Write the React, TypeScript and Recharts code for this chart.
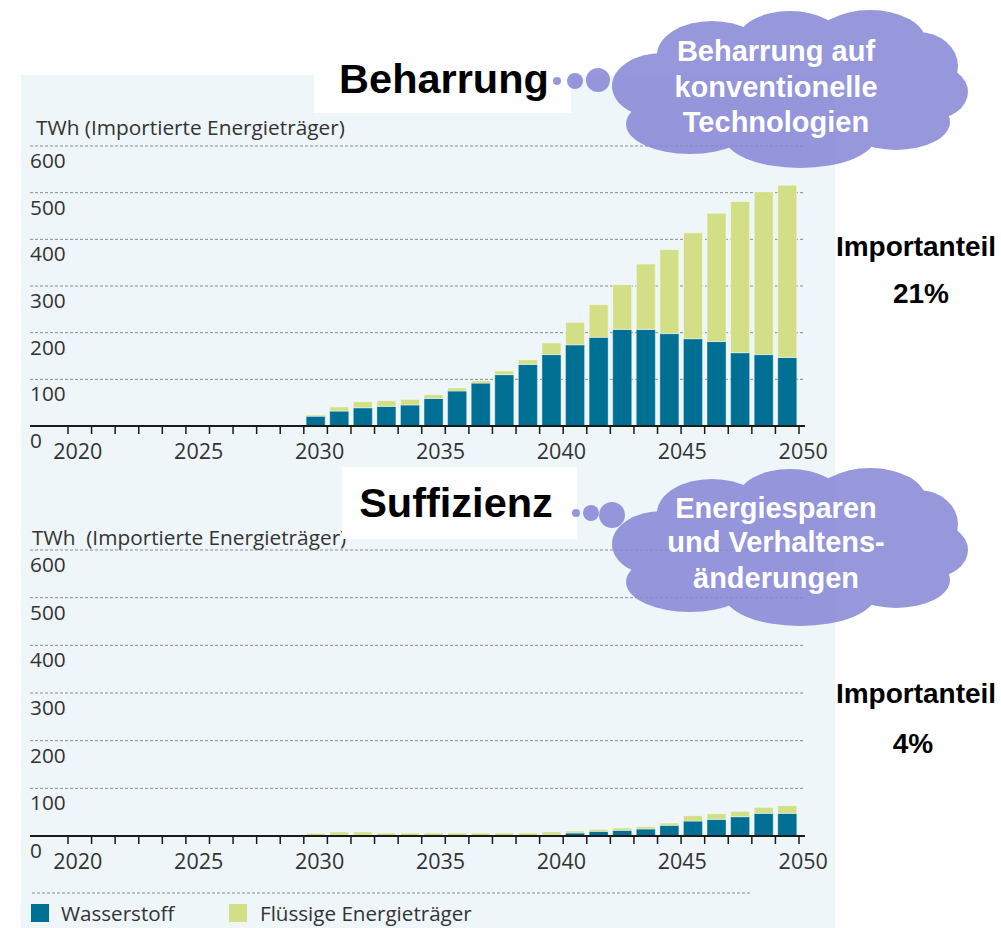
import React from 'react';
import { BarChart, Bar, XAxis, YAxis, CartesianGrid } from 'recharts';

const years = [
  2020, 2021, 2022, 2023, 2024, 2025, 2026, 2027, 2028, 2029, 2030,
  2031, 2032, 2033, 2034, 2035, 2036, 2037, 2038, 2039, 2040,
  2041, 2042, 2043, 2044, 2045, 2046, 2047, 2048, 2049, 2050,
];
const yearLabels = [2020, 2025, 2030, 2035, 2040, 2045, 2050];
const yTicks = [0, 100, 200, 300, 400, 500, 600];

// Beharrung (TWh)
const beharrungWasserstoff = [
  0, 0, 0, 0, 0, 0, 0, 0, 0, 0, 21,
  32, 39, 42, 45, 59, 75, 92, 110, 132, 153,
  174, 190, 207, 207, 198, 187, 181, 157, 153, 147,
];
const beharrungFluessig = [
  0, 0, 0, 0, 0, 0, 0, 0, 0, 0, 3,
  9, 13, 12.5, 12, 8, 6.5, 5, 8, 10, 25,
  48, 70, 96, 140, 180, 227, 275, 324, 349, 369,
];

// Suffizienz (TWh)
const suffizienzWasserstoff = [
  0, 0, 0, 0, 0, 0, 0, 0, 0, 0, 1,
  1.5, 1.5, 1, 1, 1, 1, 1, 1, 1, 1.5,
  6.3, 9.8, 11.9, 14.7, 22.4, 31.4, 34.9, 40.5, 47.5, 47.5,
];
const suffizienzFluessig = [
  0, 0, 0, 0, 0, 0, 0, 0, 0, 0, 4.6,
  6.9, 6.9, 5.3, 5.3, 5.3, 5.3, 5.3, 5.3, 5.3, 7,
  4.2, 4.2, 4.9, 4.9, 4.9, 11.2, 11.9, 11.2, 12.6, 16.1,
];

const seriesNames = ['Wasserstoff', 'Flüssige Energieträger'];
const BLUE = '#006F94';
const GREEN = '#D3DF87';
const TEXT = '#333333';
const FONT = "'Open Sans', sans-serif";
const BOLD = "'Liberation Sans', Arial, sans-serif";

const makeData = (h: number[], f: number[]) =>
  years.map((year, i) => ({ year, wasserstoff: h[i], fluessig: f[i] }));

const CHART_W = 830;
const CHART_H = 470;
const PLOT_L = 30;
const PLOT_R = 805;
const PAD_L = 38;
const PAD_R = 6;
const XH = 30;
const BAND = (PLOT_R - PLOT_L - PAD_L - PAD_R) / years.length;

function XTick(props: any) {
  const { x, y, payload, index } = props;
  const year = payload.value as number;
  const half = BAND / 2;
  const isLast = index === years.length - 1;
  const show = yearLabels.includes(year);
  const dx = (year - 2020) * 0.6 - 2;
  return (
    <g>
      <line x1={x - half} x2={x - half} y1={y} y2={y + 8} stroke="#1a1a1a" strokeWidth={1.5} />
      {isLast && <line x1={x + half} x2={x + half} y1={y} y2={y + 8} stroke="#1a1a1a" strokeWidth={1.5} />}
      {show && (
        <text x={x + dx} y={y + 33} textAnchor="middle" fontSize={21.5} fontFamily={FONT} fill={TEXT}>
          {year}
        </text>
      )}
    </g>
  );
}

function YTick(props: any) {
  const { y, payload } = props;
  return (
    <text x={PLOT_L} y={y + 22} textAnchor="start" fontSize={20.8} fontFamily={FONT} fill={TEXT}>
      {payload.value}
    </text>
  );
}

function Panel({ data, top, plotTop, plotBottom }: { data: any[]; top: number; plotTop: number; plotBottom: number }) {
  const mt = plotTop - top;
  const mb = top + CHART_H - XH - plotBottom;
  return (
    <div style={{ position: 'absolute', left: 0, top, width: CHART_W, height: CHART_H }}>
      <BarChart
        width={CHART_W}
        height={CHART_H}
        data={data}
        margin={{ top: mt, right: CHART_W - PLOT_R, left: PLOT_L - 1, bottom: mb }}
        barCategoryGap="10%"
      >
        <CartesianGrid vertical={false} stroke="#8c8c8c" strokeDasharray="3 2" />
        <YAxis
          width={1}
          domain={[0, 600]}
          ticks={yTicks}
          interval={0}
          axisLine={false}
          tickLine={false}
          tick={<YTick />}
        />
        <XAxis
          dataKey="year"
          interval={0}
          height={XH}
          padding={{ left: PAD_L, right: PAD_R }}
          tickSize={0}
          tickMargin={0}
          tickLine={false}
          axisLine={{ stroke: '#1a1a1a', strokeWidth: 2 }}
          tick={<XTick />}
        />
        <Bar dataKey="wasserstoff" name={seriesNames[0]} stackId="a" fill={BLUE} stroke="rgba(255,255,255,0.35)" strokeWidth={1} isAnimationActive={false} />
        <Bar dataKey="fluessig" name={seriesNames[1]} stackId="a" fill={GREEN} stroke="rgba(255,255,255,0.45)" strokeWidth={1} isAnimationActive={false} />
      </BarChart>
    </div>
  );
}

const cloudLobes = [
  { cx: 790, cy: 90, rx: 140, ry: 55 },
  { cx: 662, cy: 86, rx: 50, ry: 33 },
  { cx: 712, cy: 55, rx: 55, ry: 34 },
  { cx: 790, cy: 40, rx: 52, ry: 29 },
  { cx: 870, cy: 42, rx: 56, ry: 32 },
  { cx: 918, cy: 66, rx: 40, ry: 34 },
  { cx: 930, cy: 92, rx: 38, ry: 28 },
  { cx: 896, cy: 122, rx: 54, ry: 28 },
  { cx: 800, cy: 136, rx: 76, ry: 32 },
  { cx: 690, cy: 124, rx: 64, ry: 30 },
];

function Cloud({ dx, dy, dots, lines, baselines }: { dx: number; dy: number; dots: number[][]; lines: string[]; baselines: number[] }) {
  return (
    <g>
      <g opacity={0.85} fill="#8585D5">
        {cloudLobes.map((l, i) => (
          <ellipse key={i} cx={l.cx + dx} cy={l.cy + dy} rx={l.rx} ry={l.ry} />
        ))}
      </g>
      <g opacity={0.85} fill="#8585D5">
        {dots.map((d, i) => (
          <circle key={i} cx={d[0]} cy={d[1]} r={d[2]} />
        ))}
      </g>
      {lines.map((t, i) => (
        <text key={i} x={776} y={baselines[i]} textAnchor="middle" fontSize={29} fontWeight="bold" fontFamily={BOLD} fill="#ffffff">
          {t}
        </text>
      ))}
    </g>
  );
}

export default function App() {
  const dataTop = makeData(beharrungWasserstoff, beharrungFluessig);
  const dataBottom = makeData(suffizienzWasserstoff, suffizienzFluessig);
  return (
    <div style={{ position: 'absolute', left: 0, top: 0, width: 1001, height: 928, background: '#ffffff', overflow: 'hidden' }}>
      <div style={{ position: 'absolute', left: 21, top: 75, width: 814, height: 853, background: '#EEF6F9' }} />
      <svg width={1001} height={928} style={{ position: 'absolute', left: 0, top: 0 }}>
        <text x={36} y={135} fontSize={20.8} fontFamily={FONT} fill={TEXT}>TWh (Importierte Energieträger)</text>
        <text x={32} y={545} fontSize={20.8} fontFamily={FONT} fill={TEXT} style={{ whiteSpace: 'pre' }}>TWh  (Importierte Energieträger)</text>
        <line x1={32} x2={752} y1={893} y2={893} stroke="#8c8c8c" strokeDasharray="3 2" />
        <rect x={31} y={904} width={18} height={18} fill={BLUE} />
        <text x={61} y={921} fontSize={20.6} fontFamily={FONT} fill={TEXT}>{seriesNames[0]}</text>
        <rect x={229} y={904} width={18} height={18} fill={GREEN} />
        <text x={260} y={921} fontSize={20.6} fontFamily={FONT} fill={TEXT}>{seriesNames[1]}</text>
      </svg>
      <Panel data={dataTop} top={0} plotTop={146} plotBottom={426} />
      <Panel data={dataBottom} top={420} plotTop={550} plotBottom={836} />
      <svg width={1001} height={928} style={{ position: 'absolute', left: 0, top: 0, pointerEvents: 'none' }}>
        <rect x={314} y={48} width={257} height={65} fill="#ffffff" />
        <text x={444} y={93} textAnchor="middle" fontSize={41.5} fontWeight="bold" fontFamily={BOLD} fill="#000">Beharrung</text>
        <rect x={342} y={467} width={235} height={72} fill="#ffffff" />
        <text x={456} y={517} textAnchor="middle" fontSize={41.5} fontWeight="bold" fontFamily={BOLD} fill="#000">Suffizienz</text>
        <Cloud
          dx={0}
          dy={0}
          dots={[[557, 81, 4], [575, 81, 8], [598, 80, 12]]}
          lines={['Beharrung auf', 'konventionelle', 'Technologien']}
          baselines={[61, 96.5, 131.5]}
        />
        <Cloud
          dx={0}
          dy={458}
          dots={[[576, 513, 4], [591, 513, 8], [612, 515, 13]]}
          lines={['Energiesparen', 'und Verhaltens-', 'änderungen']}
          baselines={[518, 552, 588]}
        />
        <text x={916} y={256} textAnchor="middle" fontSize={28} fontWeight="bold" fontFamily={BOLD} fill="#000">Importanteil</text>
        <text x={921} y={303} textAnchor="middle" fontSize={28} fontWeight="bold" fontFamily={BOLD} fill="#000">21%</text>
        <text x={916} y={703} textAnchor="middle" fontSize={28} fontWeight="bold" fontFamily={BOLD} fill="#000">Importanteil</text>
        <text x={913} y={753} textAnchor="middle" fontSize={28} fontWeight="bold" fontFamily={BOLD} fill="#000">4%</text>
      </svg>
    </div>
  );
}
